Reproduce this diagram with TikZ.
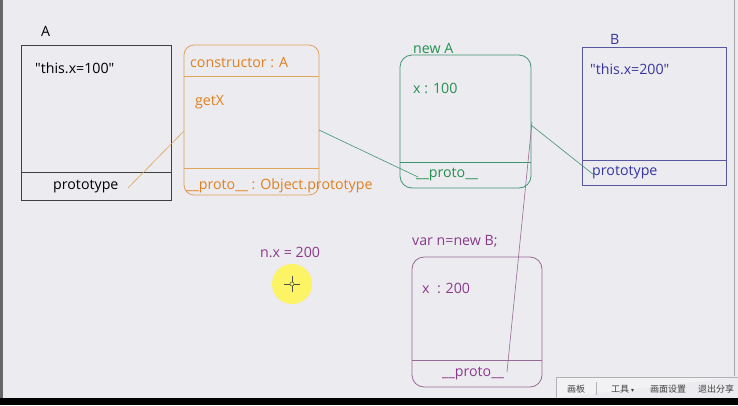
\documentclass[tikz,border=0pt]{standalone}
\usepackage{fontspec}
\setmainfont{Open Sans}[Ligatures=TeXOff]
\newfontfamily\cjkf{Noto Sans CJK SC}
\newfontfamily\symf{DejaVu Sans}
\begin{document}
\begin{tikzpicture}[x=1pt,y=-1pt,
  lbl/.style={anchor=west,inner sep=0pt,yshift=-1.5pt,font=\fontsize{14.2}{16}\selectfont},
  tb/.style={anchor=west,inner sep=0pt,font=\cjkf\fontsize{9}{10}\selectfont,text=black!75}]
\definecolor{bg}{HTML}{ECEBEF}
\definecolor{orgl}{HTML}{E2A35A}
\definecolor{orgt}{HTML}{E08020}
\definecolor{grn}{HTML}{3F9470}
\definecolor{grnt}{HTML}{23914F}
\definecolor{blu}{HTML}{5858A0}
\definecolor{blut}{HTML}{3535A0}
\definecolor{pur}{HTML}{966A96}
\definecolor{purt}{HTML}{8A3A8A}
\fill[bg] (0,0) rectangle (738,405);
\useasboundingbox (0,0) rectangle (738,405);
% frame edges
\fill[black!60] (0,0) rectangle (3,398);
\draw[black!35] (734,0) -- (734,376);
\fill[black] (0,398) rectangle (738,405);
% toolbar
\draw[black!30,fill=bg!70!white] (556,398) -- (556,377) -- (738,377);
\node[tb] (t1) at (567,389) {画板};
\draw[black!30] (596,382) -- (596,395);
\node[tb] (t2) at (611,389) {工具 {\symf\fontsize{6}{7}\selectfont ▾}};
\node[tb] (t3) at (650,389) {画面设置};
\node[tb] (t4) at (698,389) {退出分享};

% Box A
\node[lbl] (Alab) at (41,30) {A};
\draw[black!75,line width=0.9pt] (21,45) rectangle (171,200);
\draw[black!75,line width=0.9pt] (21,172) -- (171,172);
\node[lbl] (Athis) at (35,67) {"this.x=100"};
\node[lbl] (Aproto) at (53,185) {prototype};

% orange prototype object
\draw[orgl,line width=0.8pt,rounded corners=10pt] (184,45) rectangle (319,195);
\draw[orgl,line width=0.8pt] (184,76) -- (319,76);
\draw[orgl,line width=0.8pt] (184,168) -- (319,168);
\node[lbl,text=orgt] (ctor) at (190,61) {constructor : A};
\node[lbl,text=orgt] (getx) at (195,101) {getX};
\node[lbl,text=orgt] (oproto) at (186,184) {\_\_proto\_\_ : Object.prototype};
\coordinate (a1) at (128,188);
\coordinate (a2) at (184,131);
\draw[orgl,line width=0.6pt] (a1) -- (a2);

% green new A
\node[lbl,text=grnt] (newA) at (413,47) {new A};
\draw[grn,line width=0.8pt,rounded corners=12pt] (400,55) rectangle (531,188);
\draw[grn,line width=0.8pt] (400,162) -- (531,162);
\node[lbl,text=grnt] (x100) at (413,87) {x : 100};
\node[lbl,text=grnt] (gproto) at (416,173) {\_\_proto\_\_};
\coordinate (g1) at (319,130);
\coordinate (g2) at (418,177);
\draw[grn,line width=0.6pt] (g1) -- (g2);

% blue B
\node[lbl,text=blut] (Blab) at (610,38) {B};
\draw[blu,line width=0.8pt] (582,47) rectangle (726,185);
\draw[blu,line width=0.8pt] (582,160) -- (726,160);
\node[lbl,text=blut] (Bthis) at (590,68) {"this.x=200"};
\node[lbl,text=blut] (Bproto) at (592,171) {prototype};
\coordinate (b1) at (531,125);
\coordinate (b2) at (594,175);
\draw[grn,line width=0.6pt] (b1) -- (b2);

% purple n
\node[lbl,text=purt] (varn) at (412,240) {var n=new B;};
\draw[pur,line width=0.8pt,rounded corners=12pt] (412,257) rectangle (542,387);
\draw[pur,line width=0.8pt] (412,360) -- (542,360);
\node[lbl,text=purt] (x200) at (422,287) {x\ \ : 200};
\node[lbl,text=purt] (pproto) at (442,372) {\_\_proto\_\_};
\coordinate (p1) at (532,122);
\coordinate (p2) at (507,372);
\draw[pur,line width=0.6pt] (p1) -- (p2);

\node[lbl,text=purt] (nx) at (260,251) {n.x = 200};

% cursor highlight
\fill[yellow!70!white,opacity=0.85] (292,284) circle (20);
\draw[black!70,line width=0.6pt] (284,284) -- (300,284) (292,276) -- (292,292);
\draw[black!70,fill=yellow!60!white,line width=0.5pt] (292,284) circle (2);
\end{tikzpicture}
\end{document}
